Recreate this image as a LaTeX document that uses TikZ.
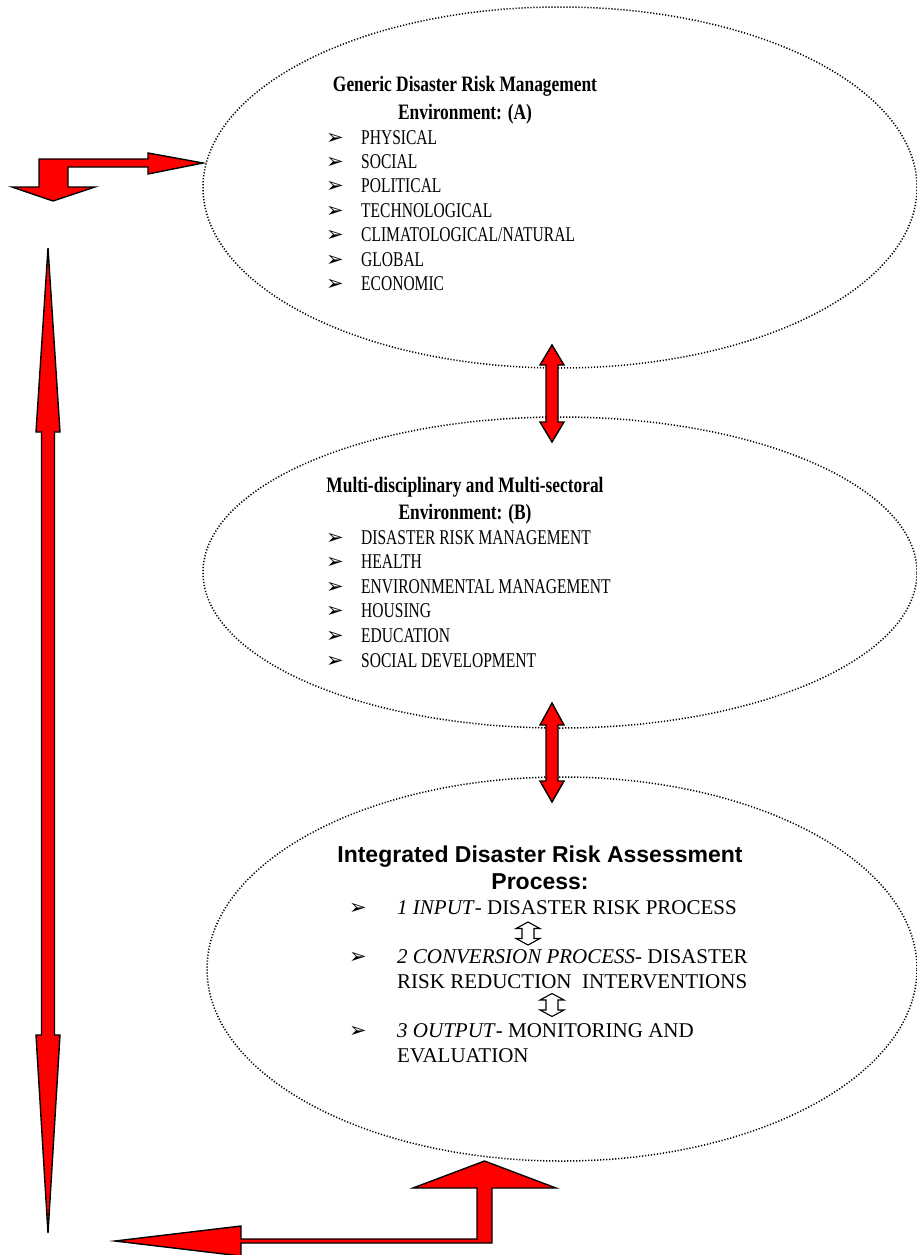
\documentclass[tikz,border=0pt]{standalone}
\usepackage{fontspec}
\setmainfont{Liberation Serif}
\newfontfamily\condf{Liberation Serif}[FakeStretch=0.74]
\newfontfamily\condbf{Liberation Serif}[FakeStretch=0.79]
\newfontfamily\arialf{Liberation Sans}
\newfontfamily\symf{DejaVu Sans}
\usetikzlibrary{shapes.geometric}
\begin{document}
\begin{tikzpicture}[x=1pt,y=-1pt,
  ell/.style={ellipse, draw=black, line width=1.5pt, dash pattern=on 1.2pt off 1.8pt, inner sep=0pt},
  blk/.style={draw=black, fill=red, line width=1.4pt, line join=miter},
  hollow/.style={draw=black, fill=white, line width=1.1pt, line join=miter},
  ttlA/.style={anchor=base, inner sep=0pt, font=\condbf\bfseries\fontsize{22}{26}\selectfont},
  itm/.style={anchor=base west, inner sep=0pt, font=\condf\fontsize{21}{24}\selectfont},
  bul/.style={anchor=base west, inner sep=0pt, font=\symf\fontsize{21}{24}\selectfont},
  ttlC/.style={anchor=base, inner sep=0pt, font=\arialf\bfseries\fontsize{23}{26}\selectfont},
  itmC/.style={anchor=base west, inner sep=0pt, font=\fontsize{21}{24}\selectfont}]
\useasboundingbox (0,0) rectangle (917,1255);

% ellipses
\node[ell, minimum width=714pt, minimum height=361pt] (A) at (560,187.5) {};
\node[ell, minimum width=714pt, minimum height=311pt] (B) at (560,572.5) {};
\node[ell, minimum width=710pt, minimum height=384pt] (C) at (562,969) {};

% ellipse A text
\node[ttlA] (At1) at (465,92) {Generic Disaster Risk Management};
\node[ttlA] (At2) at (465,119) {Environment: (A)};
\foreach \t [count=\i] in {PHYSICAL,SOCIAL,POLITICAL,TECHNOLOGICAL,CLIMATOLOGICAL/NATURAL,GLOBAL,ECONOMIC}{
  \node[bul] (Ab\i) at (326,{144+24.4*(\i-1)}) {➢};
  \node[itm] (Ai\i) at (361,{144+24.4*(\i-1)}) {\t};
}

% ellipse B text
\node[ttlA] (Bt1) at (465,492) {Multi-disciplinary and Multi-sectoral};
\node[ttlA] (Bt2) at (465,519) {Environment: (B)};
\foreach \t [count=\i] in {DISASTER RISK MANAGEMENT,HEALTH,ENVIRONMENTAL MANAGEMENT,HOUSING,EDUCATION,SOCIAL DEVELOPMENT}{
  \node[bul] (Bb\i) at (326,{544+24.6*(\i-1)}) {➢};
  \node[itm] (Bi\i) at (361,{544+24.6*(\i-1)}) {\t};
}

% ellipse C text
\node[ttlC] (Ct1) at (540,862) {Integrated Disaster Risk Assessment};
\node[ttlC] (Ct2) at (540,889) {Process:};
\node[bul] (Cb1) at (349,914) {➢};
\node[itmC] (C1) at (397,914) {\textit{1 INPUT}- DISASTER RISK PROCESS};
\node[bul] (Cb2) at (349,963) {➢};
\node[itmC] (C2a) at (397,963) {\textit{2 CONVERSION PROCESS}- DISASTER};
\node[itmC] (C2b) at (397,988) {RISK REDUCTION\ \ INTERVENTIONS};
\node[bul] (Cb3) at (349,1037) {➢};
\node[itmC] (C3a) at (397,1037) {\textit{3 OUTPUT}- MONITORING AND};
\node[itmC] (C3b) at (397,1062) {EVALUATION};

% small hollow up-down arrows
\begin{scope}[shift={(528,933.5)}]
\draw[hollow] (0,-11.5) -- (12,-5) -- (6,-5) -- (6,5) -- (12,5) -- (0,11.5) -- (-12,5) -- (-6,5) -- (-6,-5) -- (-12,-5) -- cycle;
\end{scope}
\begin{scope}[shift={(552,1005)}]
\draw[hollow] (0,-11.5) -- (12,-5) -- (6,-5) -- (6,5) -- (12,5) -- (0,11.5) -- (-12,5) -- (-6,5) -- (-6,-5) -- (-12,-5) -- cycle;
\end{scope}

% double arrows between ellipses
\draw[blk] (552,345) -- (564,365) -- (558,365) -- (558,422) -- (564,422) -- (552,442) -- (540,422) -- (546,422) -- (546,365) -- (540,365) -- cycle;
\draw[blk] (552,703) -- (564,725) -- (558,725) -- (558,781) -- (564,781) -- (552,802) -- (540,781) -- (546,781) -- (546,725) -- (540,725) -- cycle;

% top-left elbow arrow
\draw[blk] (39,159) -- (148,159) -- (148,153) -- (203,163) -- (148,174) -- (148,167) -- (68,167) -- (68,187) -- (95,187) -- (53,201) -- (12,187) -- (39,187) -- cycle;

% long left double arrow
\draw[blk] (48,248) -- (60,432) -- (54.5,432) -- (54.5,1035) -- (60,1035) -- (48,1233) -- (36,1035) -- (41.5,1035) -- (41.5,432) -- (36,432) -- cycle;

% bottom elbow arrow
\draw[blk] (477,1239) -- (477,1188) -- (413,1188) -- (484.5,1161) -- (556,1188) -- (492,1188) -- (492,1243) -- (241,1243) -- (241,1256) -- (115,1241) -- (241,1226) -- (241,1239) -- cycle;
\end{tikzpicture}
\end{document}
